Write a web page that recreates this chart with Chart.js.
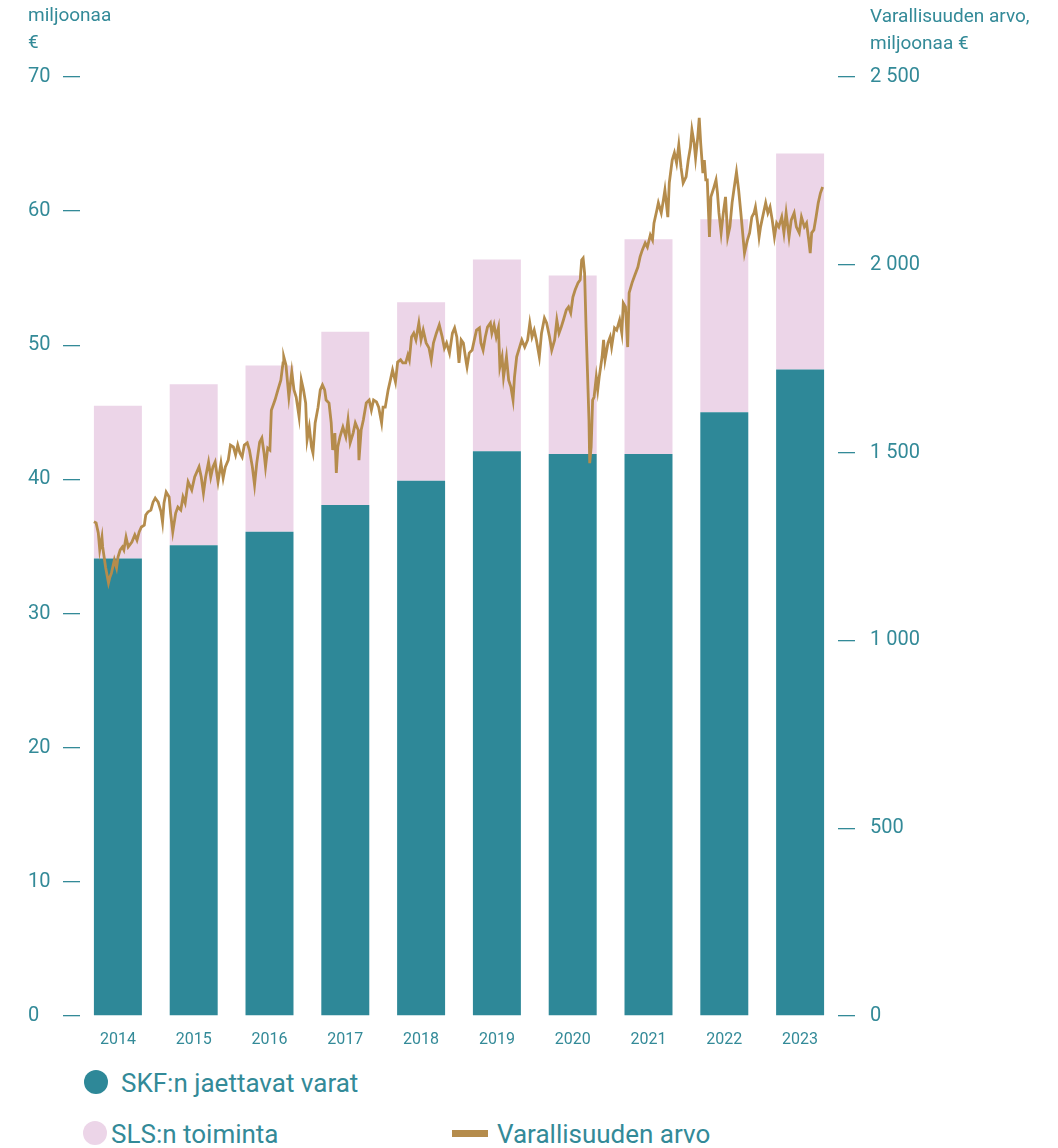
<!DOCTYPE html>
<html>
<head>
<meta charset="utf-8">
<script src="https://cdn.jsdelivr.net/npm/chart.js@4.4.1/dist/chart.umd.min.js"></script>
<style>
  body { margin: 0; background: #fff; font-family: Roboto, sans-serif; color: #338a98; }
  #wrap { position: relative; width: 1058px; height: 1148px; overflow: hidden; }
  #chartBox { position: absolute; left: 0; top: 0; width: 1058px; height: 1060px; }
  .unit { position: absolute; font-size: 19px; line-height: 27px; white-space: nowrap; }
  .leg { position: absolute; font-size: 26px; line-height: 30px; white-space: nowrap; }
  .dot { position: absolute; width: 24px; height: 24px; border-radius: 50%; }
  .bar { position: absolute; width: 36px; height: 7px; }
</style>
</head>
<body>
<div id="wrap">
  <div id="chartBox"><canvas id="chart"></canvas></div>
  <div class="unit" style="left:28px;top:1px">miljoonaa<br>€</div>
  <div class="unit" style="left:870px;top:2px">Varallisuuden arvo,<br>miljoonaa €</div>

  <div class="dot" style="left:84px;top:1070px;background:#2e8898"></div>
  <div class="leg" style="left:121px;top:1068px">SKF:n jaettavat varat</div>
  <div class="dot" style="left:83px;top:1121px;background:#ecd5e8"></div>
  <div class="leg" style="left:111px;top:1119px">SLS:n toiminta</div>
  <div class="bar" style="left:452px;top:1130px;background:#b58c4c"></div>
  <div class="leg" style="left:497px;top:1119px">Varallisuuden arvo</div>
</div>

<script>
// vuodet ja pylväät (milj. €)
const years = ['2014', '2015', '2016', '2017', '2018', '2019', '2020', '2021', '2022', '2023'];
const skfValues = [34.1, 35.1, 36.1, 38.1, 39.9, 42.1, 41.9, 41.9, 45.0, 48.2];
const slsValues = [11.4, 12.0, 12.4, 12.9, 13.3, 14.3, 13.3, 16.0, 14.4, 16.1];

const leftTicks = [0, 10, 20, 30, 40, 50, 60, 70];
const rightTicks = [0, 500, 1000, 1500, 2000, 2500];

// varallisuuden arvo (milj. €), luettu kuvasta
const wealthTime = [
  2014.00,2014.03,2014.06,2014.08,2014.11,2014.12,2014.16,2014.20,2014.22,2014.24,2014.28,2014.31,2014.33,2014.36,2014.39,2014.41,2014.44,2014.47,2014.52,2014.56,2014.59,2014.62,2014.65,2014.69,2014.71,2014.74,2014.78,2014.81,2014.84,2014.88,2014.92,2014.94,2014.96,2014.99,
  2015.03,2015.05,2015.08,2015.12,2015.15,2015.19,2015.22,2015.25,2015.29,2015.34,2015.38,2015.44,2015.47,2015.50,2015.53,2015.57,2015.60,2015.63,2015.66,2015.70,2015.74,2015.77,2015.80,2015.84,2015.87,2015.91,2015.94,2015.97,
  2016.00,2016.03,2016.06,2016.10,2016.13,2016.17,2016.20,2016.23,2016.27,2016.30,2016.33,2016.35,2016.38,2016.41,2016.43,2016.48,2016.52,2016.56,2016.59,2016.60,2016.63,2016.64,2016.67,2016.71,2016.74,2016.77,2016.81,2016.84,2016.87,2016.90,2016.92,2016.95,2016.98,
  2017.00,2017.03,2017.07,2017.10,2017.13,2017.16,2017.18,2017.22,2017.25,2017.27,2017.30,2017.32,2017.34,2017.37,2017.41,2017.45,2017.48,2017.51,2017.55,2017.58,2017.62,2017.63,2017.66,2017.69,2017.73,2017.77,2017.80,2017.83,2017.87,2017.90,2017.94,2017.96,2017.99,
  2018.03,2018.06,2018.09,2018.13,2018.16,2018.20,2018.23,2018.27,2018.30,2018.32,2018.35,2018.38,2018.41,2018.45,2018.48,2018.51,2018.55,2018.59,2018.62,2018.65,2018.69,2018.73,2018.77,2018.80,2018.83,2018.87,2018.91,2018.94,2018.97,
  2019.00,2019.03,2019.06,2019.10,2019.11,2019.14,2019.18,2019.21,2019.24,2019.28,2019.30,2019.33,2019.36,2019.39,2019.43,2019.45,2019.48,2019.51,2019.54,2019.56,2019.59,2019.61,2019.65,2019.68,2019.71,2019.74,2019.76,2019.79,2019.83,2019.86,2019.90,2019.94,2019.97,
  2020.00,2020.03,2020.06,2020.10,2020.13,2020.17,2020.20,2020.24,2020.27,2020.31,2020.34,2020.37,2020.40,2020.43,2020.47,2020.50,2020.53,2020.56,2020.59,2020.63,2020.66,2020.68,2020.70,2020.72,2020.74,2020.76,2020.78,2020.79,2020.81,2020.83,2020.85,2020.88,2020.90,2020.92,2020.96,2020.98,
  2021.00,2021.04,2021.07,2021.09,2021.13,2021.16,2021.20,2021.23,2021.25,2021.28,2021.31,2021.33,2021.37,2021.40,2021.45,2021.48,2021.51,2021.55,2021.58,2021.62,2021.65,2021.67,2021.71,2021.73,2021.77,2021.80,2021.82,2021.86,2021.88,2021.92,2021.95,2021.98,
  2022.01,2022.04,2022.07,2022.11,2022.14,2022.17,2022.19,2022.22,2022.24,2022.27,2022.29,2022.31,2022.34,2022.36,2022.38,2022.40,2022.43,2022.45,2022.48,2022.52,2022.54,2022.56,2022.59,2022.62,2022.65,2022.68,2022.71,2022.74,2022.77,2022.80,2022.83,2022.86,2022.89,2022.91,2022.95,2022.98,
  2023.01,2023.04,2023.06,2023.09,2023.11,2023.13,2023.17,2023.20,2023.23,2023.26,2023.29,2023.32,2023.35,2023.38,2023.42,2023.45,2023.48,2023.52,2023.55,2023.59,2023.62,2023.66,2023.69,2023.73,2023.76,2023.79,2023.81,2023.83,2023.86,2023.89,2023.92,2023.95,2023.98
];
const wealthValue = [
  1316,1313,1286,1241,1275,1249,1195,1153,1169,1179,1214,1193,1222,1241,1249,1241,1275,1249,1262,1281,1267,1289,1302,1307,1334,1342,1347,1368,1379,1368,1342,1315,1366,1395,
  1382,1339,1289,1339,1355,1347,1382,1366,1422,1400,1435,1462,1435,1392,1435,1475,1435,1462,1475,1422,1472,1432,1462,1480,1520,1515,1494,1520,
  1499,1488,1520,1526,1507,1462,1414,1472,1528,1539,1499,1462,1512,1507,1613,1640,1667,1693,1739,1755,1733,1712,1648,1715,1667,1648,1595,1693,1667,1632,1534,1568,1515,
  1499,1579,1621,1667,1680,1667,1640,1632,1579,1507,1552,1446,1515,1542,1568,1542,1587,1526,1552,1579,1560,1480,1560,1587,1632,1640,1613,1640,1635,1621,1579,1621,1621,
  1667,1693,1720,1688,1741,1747,1739,1739,1760,1747,1808,1818,1800,1845,1800,1826,1792,1778,1747,1792,1818,1840,1808,1778,1792,1765,1818,1832,1808,
  1739,1800,1792,1739,1728,1765,1773,1800,1826,1832,1792,1773,1808,1834,1845,1818,1840,1808,1832,1728,1755,1701,1755,1693,1675,1640,1701,1755,1781,1800,1781,1800,1845,
  1808,1826,1800,1755,1818,1858,1845,1808,1773,1800,1853,1818,1834,1853,1880,1888,1872,1914,1933,1952,1960,2013,2018,1978,1834,1712,1587,1472,1515,1640,1648,1701,1667,1701,1755,1800,
  1747,1792,1808,1781,1832,1826,1853,1818,1898,1888,1781,1925,1952,1968,1994,2021,2039,2058,2047,2079,2066,2111,2146,2165,2138,2173,2199,2127,2218,2279,2298,2271,
  2319,2260,2218,2234,2279,2314,2359,2324,2284,2340,2391,2324,2244,2279,2226,2226,2074,2181,2199,2226,2191,2138,2085,2138,2181,2074,2101,2165,2207,2247,2199,2138,2074,2031,2066,2085,
  2127,2138,2154,2111,2074,2101,2138,2165,2138,2154,2119,2074,2111,2101,2127,2085,2138,2074,2119,2138,2101,2085,2127,2101,2111,2066,2031,2085,2093,2127,2165,2191,2207
];

const teal = '#2e8898';
const pink = '#ecd5e8';
const gold = '#b58c4c';
const textColor = '#338a98';

// pylvään leveys kategoriasta; viiva alkaa ekan pylvään vasemmasta reunasta ja loppuu viimeisen oikeaan
const barFrac = 0.633;
const span = years.length - 1 + barFrac;
const lineMin = 2014 + (-0.5 + barFrac / 2) * years.length / span;
const lineMax = 2014 + (years.length - 0.5 + barFrac / 2) * years.length / span;

const fmt = v => v >= 1000 ? Math.floor(v / 1000) + ' ' + String(v % 1000).padStart(3, '0') : String(v);

const ctx = document.getElementById('chart').getContext('2d');
new Chart(ctx, {
  data: {
    labels: years,
    datasets: [
      {
        type: 'bar',
        label: 'SKF:n jaettavat varat',
        data: skfValues,
        backgroundColor: teal,
        stack: 'total',
        grouped: false,
        barPercentage: barFrac,
        categoryPercentage: 1,
        order: 1
      },
      {
        type: 'bar',
        label: 'SLS:n toiminta',
        data: slsValues,
        backgroundColor: pink,
        stack: 'total',
        grouped: false,
        barPercentage: barFrac,
        categoryPercentage: 1,
        order: 1
      },
      {
        type: 'line',
        label: 'Varallisuuden arvo',
        data: wealthTime.map((t, i) => ({ x: t, y: wealthValue[i] })),
        xAxisID: 'xl',
        yAxisID: 'y2',
        borderColor: gold,
        borderWidth: 2.8,
        pointRadius: 0,
        tension: 0,
        order: 0
      }
    ]
  },
  options: {
    responsive: true,
    maintainAspectRatio: false,
    animation: false,
    layout: { padding: { left: 28, top: 77, right: 0, bottom: 0 } },
    plugins: {
      legend: { display: false },
      tooltip: { enabled: false }
    },
    scales: {
      x: {
        type: 'category',
        stacked: true,
        grid: { display: false },
        border: { display: false },
        ticks: { color: textColor, font: { family: 'Roboto', size: 16 }, padding: 6 },
        afterFit: s => { s.height = 44; }
      },
      xl: {
        type: 'linear',
        axis: 'x',
        display: false,
        min: lineMin,
        max: lineMax
      },
      y: {
        stacked: true,
        position: 'left',
        min: 0,
        max: 70,
        afterBuildTicks: s => { s.ticks = leftTicks.map(v => ({ value: v })); },
        grid: { drawOnChartArea: false, drawTicks: true, tickLength: 17, color: textColor, lineWidth: 1.3 },
        border: { display: false },
        ticks: { color: textColor, font: { family: 'Roboto', size: 20 }, crossAlign: 'far', padding: 8 },
        afterFit: s => { s.width = 52; }
      },
      y2: {
        position: 'right',
        min: 0,
        max: 2500,
        afterBuildTicks: s => { s.ticks = rightTicks.map(v => ({ value: v })); },
        grid: { drawOnChartArea: false, drawTicks: true, tickLength: 17, color: textColor, lineWidth: 1.3 },
        border: { display: false },
        ticks: { color: textColor, font: { family: 'Roboto', size: 20 }, padding: 15, callback: v => fmt(v) },
        afterFit: s => { s.width = 220; }
      }
    }
  }
});
</script>
</body>
</html>
